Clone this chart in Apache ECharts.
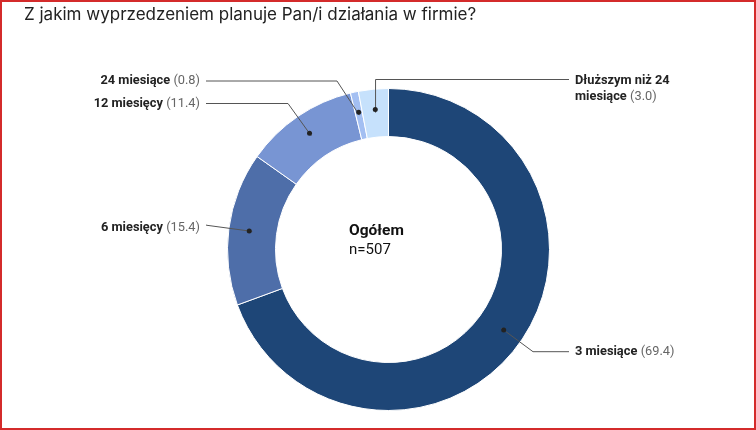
<!DOCTYPE html>
<html><head><meta charset="utf-8">
<script src="https://cdn.jsdelivr.net/npm/echarts@6/dist/echarts.min.js"></script>
<style>
html,body{margin:0;padding:0;background:#fff}
#c{width:756px;height:430px}
#frame{position:absolute;left:0;top:0;width:756px;height:430px;box-sizing:border-box;border:2px solid #d42b2b;pointer-events:none}
</style>
</head><body><div id="c"></div><div id="frame"></div>
<script>
const categories = ['3 miesiące', '6 miesięcy', '12 miesięcy', '24 miesiące', 'Dłuższym niż 24 miesiące'];
const shares = [69.4, 15.4, 11.4, 0.8, 3.0];
const sliceColors = ['#1e4677', '#4e6ea9', '#7895d3', '#a3bff2', '#c6e1fc'];
const titleText = 'Z jakim wyprzedzeniem planuje Pan/i działania w firmie?';
const centerTitle = 'Ogółem';
const centerSample = 'n=507';

// leader line layout: bend point, line end, text anchor
const labelAnchors = [
  { bend: [533, 351.7], end: [569, 351.7], textY: 351.7, side: 'right' },
  { bend: [207, 225.3], end: [206, 225], textY: 228, side: 'left' },
  { bend: [288, 103.5], end: [206, 103.5], textY: 103.5, side: 'left' },
  { bend: [337, 81], end: [206, 81], textY: 81, side: 'left' },
  { bend: 'vertical', end: [569, 79.5], textY: 72.5, side: 'right', top: true }
];

const center = [388.5, 249.5];
const data = categories.map((n, i) => ({ name: n, value: shares[i], itemStyle: { color: sliceColors[i] } }));

function fmt(p) {
  let name = p.name;
  if (name.length > 16) {
    const k = name.lastIndexOf(' ');
    name = name.slice(0, k) + '\n' + name.slice(k + 1);
  }
  const parts = name.split('\n');
  return parts.map((t, i) => i === parts.length - 1 ? '{b|' + t + '} {v|(' + p.value.toFixed(1) + ')}' : '{b|' + t + '}').join('\n');
}

const chart = echarts.init(document.getElementById('c'), null, { renderer: 'canvas' });
chart.setOption({
  animation: false,
  title: [
    { text: titleText, left: 24, top: 6, padding: 0, textStyle: { fontFamily: 'Inter', fontSize: 17, fontWeight: 'normal', color: '#222' } },
    { text: '{a|' + centerTitle + '}\n{c|' + centerSample + '}', left: 349, top: 221.5, padding: 0,
      textStyle: { fontWeight: 'normal', rich: {
        a: { fontFamily: 'Roboto', fontSize: 15.5, fontWeight: 'bold', color: '#111', lineHeight: 19 },
        c: { fontFamily: 'Roboto', fontSize: 15, fontWeight: 'normal', color: '#111', lineHeight: 19 } } } }
  ],
  series: [
    {
      type: 'pie', silent: true, z: 2, center: center, radius: [113, 161],
      startAngle: 90, clockwise: true,
      label: { show: false }, labelLine: { show: false },
      itemStyle: { borderColor: '#ffffff', borderWidth: 1 },
      data: data
    },
    {
      type: 'pie', silent: true, z: 4, center: center, radius: [133, 137.5],
      startAngle: 90, clockwise: true, avoidLabelOverlap: false,
      itemStyle: { color: 'rgba(0,0,0,0)', borderWidth: 0 },
      label: { show: true, position: 'outside', formatter: fmt,
        rich: {
          b: { fontFamily: 'Roboto', fontSize: 12.8, fontWeight: 'bold', color: '#222', lineHeight: 16 },
          v: { fontFamily: 'Roboto', fontSize: 12.8, color: '#666', lineHeight: 16 }
        } },
      labelLine: { show: true, length: 20, length2: 10, smooth: false, lineStyle: { color: '#555', width: 1 } },
      labelLayout: function (p) {
        const a = labelAnchors[p.dataIndex];
        const s = p.labelLinePoints[0];
        const bend = a.bend === 'vertical' ? [s[0], a.end[1]] : a.bend;
        const right = a.side === 'right';
        return {
          x: right ? a.end[0] + 6 : a.end[0] - 6,
          y: a.textY,
          align: right ? 'left' : 'right',
          verticalAlign: a.top ? 'top' : 'middle',
          labelLinePoints: [s, bend, a.end]
        };
      },
      data: categories.map((n, i) => ({ name: n, value: shares[i] }))
    },
    {
      type: 'pie', silent: true, z: 5, center: center, radius: [134, 141],
      startAngle: 90, clockwise: true, avoidLabelOverlap: false,
      itemStyle: { color: 'rgba(0,0,0,0)', borderWidth: 0 },
      label: { show: true, position: 'inside', formatter: ' ', backgroundColor: '#222',
        width: 5, height: 5, borderRadius: 2.5, padding: 0, fontSize: 5, lineHeight: 5 },
      labelLine: { show: false },
      data: categories.map((n, i) => ({ name: n, value: shares[i] }))
    }
  ]
});
</script>
</body></html>
